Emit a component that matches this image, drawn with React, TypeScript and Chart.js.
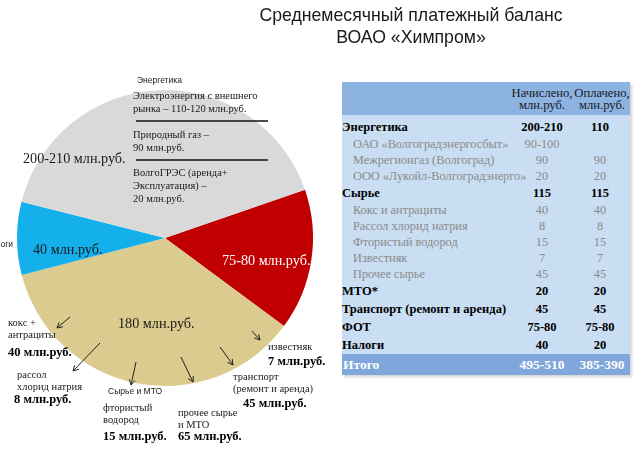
import React, { useEffect, useRef } from "react";
import { Chart, registerables } from "chart.js";

Chart.register(...registerables);

const titleLines = ["Среднемесячный платежный баланс", "ВОАО «Химпром»"];

// Pie slices (clockwise from the Энергетика / ФОТ boundary)
const categories = ["ФОТ", "Сырье и МТО", "Налоги", "Энергетика"];
const sliceValues = [77.5, 180, 40, 205];
const sliceValueLabels = ["75-80 млн.руб.", "180 млн.руб.", "40 млн.руб.", "200-210 млн.руб."];
const sliceColors = ["#c00000", "#dccb8f", "#14b0eb", "#d9d9d9"];

// Энергетика breakdown
const energyBreakdown = [
  ["Электроэнергия с внешнего", "рынка – 110-120 млн.руб."],
  ["Природный газ –", "90 млн.руб."],
  ["ВолгоГРЭС (аренда+", "Эксплуатация) –", "20 млн.руб."],
];

// Сырье и МТО breakdown
const rawNames = [
  ["кокс +", "антрациты"],
  ["рассол", "хлорид натрия"],
  ["фтористый", "водород"],
  ["прочее сырье", "и МТО"],
  ["транспорт", "(ремонт и аренда)"],
  ["известняк"],
];
const rawValues = ["40 млн.руб.", "8 млн.руб.", "15 млн.руб.", "65 млн.руб.", "45 млн.руб.", "7 млн.руб."];

// Table
const tableHeader = [["Начислено,", "млн.руб."], ["Оплачено,", "млн.руб."]];
const tableRows = [
  "Энергетика",
  "ОАО «Волгоградэнергосбыт»",
  "Межрегионгаз (Волгоград)",
  "ООО «Лукойл-Волгоградэнерго»",
  "Сырье",
  "Кокс и антрациты",
  "Рассол хлорид натрия",
  "Фтористый водород",
  "Известняк",
  "Прочее сырье",
  "МТО*",
  "Транспорт (ремонт и аренда)",
  "ФОТ",
  "Налоги",
];
const accrued = ["200-210", "90-100", "90", "20", "115", "40", "8", "15", "7", "45", "20", "45", "75-80", "40"];
const paid = ["110", "", "90", "20", "115", "40", "8", "15", "7", "45", "20", "45", "75-80", "20"];
const isSubRow = [false, true, true, true, false, true, true, true, true, true, false, false, false, false];
const totalRow = ["Итого", "495-510", "385-390"];

const SERIF = '"Liberation Serif", "Times New Roman", serif';
const SANS = '"Liberation Sans", Arial, sans-serif';

function arrow(ctx: CanvasRenderingContext2D, x1: number, y1: number, x2: number, y2: number) {
  const a = Math.atan2(y2 - y1, x2 - x1);
  const h = 6;
  ctx.beginPath();
  ctx.moveTo(x1, y1);
  ctx.lineTo(x2, y2);
  ctx.moveTo(x2 - h * Math.cos(a - 0.5), y2 - h * Math.sin(a - 0.5));
  ctx.lineTo(x2, y2);
  ctx.lineTo(x2 - h * Math.cos(a + 0.5), y2 - h * Math.sin(a + 0.5));
  ctx.stroke();
}

const annotationPlugin = {
  id: "pieAnnotations",
  afterDatasetsDraw(chart: any) {
    const ctx: CanvasRenderingContext2D = chart.ctx;
    ctx.save();
    ctx.textBaseline = "middle";
    ctx.textAlign = "left";

    // slice value labels
    const valuePos = [
      { x: 222, y: 261, c: "#ffffff" },
      { x: 118, y: 324, c: "#1a1a1a" },
      { x: 33, y: 250, c: "#1a1a1a" },
      { x: 23, y: 159, c: "#1a1a1a" },
    ];
    ctx.font = `14.2px ${SERIF}`;
    sliceValueLabels.forEach((t, i) => {
      ctx.fillStyle = valuePos[i].c;
      ctx.fillText(t, valuePos[i].x, valuePos[i].y);
    });

    // small category labels
    ctx.font = `8.5px ${SANS}`;
    ctx.fillStyle = "#1a1a1a";
    ctx.fillText(categories[3], 137, 81);
    ctx.fillText(categories[1], 108, 392);
    ctx.textAlign = "right";
    ctx.fillText(categories[2], 13, 245);
    ctx.textAlign = "left";

    // energy breakdown
    ctx.font = `10.5px ${SERIF}`;
    ctx.fillStyle = "#1a1a1a";
    const eStart = [96, 135, 173];
    energyBreakdown.forEach((lines, i) => {
      lines.forEach((l, j) => ctx.fillText(l, 133, eStart[i] + j * 13));
    });
    ctx.strokeStyle = "#111";
    ctx.lineWidth = 1.6;
    [121, 160].forEach((y) => {
      ctx.beginPath();
      ctx.moveTo(136, y);
      ctx.lineTo(268, y);
      ctx.stroke();
    });

    // raw materials callouts
    const layout = [
      { nx: 8, ny: 323, vx: 8, vy: 353, a: [70, 317, 57, 328] },
      { nx: 17, ny: 375, vx: 14, vy: 400, a: [100, 343, 73, 371] },
      { nx: 103, ny: 408, vx: 103, vy: 437, a: [136, 362, 131, 385] },
      { nx: 178, ny: 413, vx: 178, vy: 437, a: [181, 357, 193, 382] },
      { nx: 233, ny: 377, vx: 243, vy: 404, a: [220, 347, 233, 365] },
      { nx: 268, ny: 347, vx: 268, vy: 362, a: [252, 331, 260, 340] },
    ];
    ctx.strokeStyle = "#222";
    ctx.lineWidth = 1;
    rawNames.forEach((lines, i) => {
      const L = layout[i];
      ctx.font = `10.5px ${SERIF}`;
      ctx.fillStyle = "#1a1a1a";
      lines.forEach((l, j) => ctx.fillText(l, L.nx, L.ny + j * 12.5));
      ctx.font = `bold 12.5px ${SERIF}`;
      ctx.fillStyle = "#000";
      ctx.fillText(rawValues[i], L.vx, L.vy);
      arrow(ctx, L.a[0], L.a[1], L.a[2], L.a[3]);
    });

    ctx.restore();
  },
};

function PieChart() {
  const ref = useRef<HTMLCanvasElement | null>(null);
  useEffect(() => {
    if (!ref.current) return;
    const chart = new Chart(ref.current, {
      type: "pie",
      data: {
        labels: categories,
        datasets: [
          {
            data: sliceValues,
            backgroundColor: sliceColors,
            borderWidth: 0,
          },
        ],
      },
      options: {
        animation: false,
        responsive: false,
        rotation: 71,
        radius: 148,
        layout: { padding: { top: 26 } },
        plugins: {
          legend: { display: false },
          tooltip: { enabled: false },
          title: { display: false },
        },
      } as any,
      plugins: [annotationPlugin as any],
    });
    return () => chart.destroy();
  }, []);
  return (
    <canvas
      ref={ref}
      width={330}
      height={450}
      style={{ position: "absolute", left: 0, top: 0, width: 330, height: 450 }}
    />
  );
}

function DataTable() {
  const cell: React.CSSProperties = { padding: 0, textAlign: "center", whiteSpace: "nowrap" };
  return (
    <div
      style={{
        position: "absolute",
        left: 342,
        top: 82,
        width: 288,
        background: "#c9def2",
        boxShadow: "2px 2px 3px rgba(0,0,0,0.18)",
        fontFamily: SERIF,
      }}
    >
      <table
        style={{
          width: 288,
          tableLayout: "fixed",
          borderCollapse: "collapse",
          borderSpacing: 0,
          lineHeight: 1,
        }}
      >
        <colgroup>
          <col style={{ width: 168 }} />
          <col style={{ width: 64 }} />
          <col style={{ width: 56 }} />
        </colgroup>
        <thead>
          <tr style={{ height: 33, background: "#8db3e2" }}>
            <th style={cell}></th>
            {tableHeader.map((h, i) => (
              <th key={i} style={{ ...cell, fontWeight: "normal", fontSize: 12.6, color: "#1a1a1a", lineHeight: "12px", verticalAlign: "middle", paddingTop: 1 }}>
                {h[0]}
                <br />
                {h[1]}
              </th>
            ))}
          </tr>
        </thead>
        <tbody>
          <tr style={{ height: 3 }}>
            <td colSpan={3} style={{ padding: 0 }}></td>
          </tr>
          {tableRows.map((name, i) => {
            const sub = isSubRow[i];
            const st: React.CSSProperties = sub
              ? { fontSize: 12.3, color: "#8a8a8a", fontWeight: "normal" }
              : { fontSize: 12.5, color: "#000", fontWeight: "bold" };
            return (
              <tr key={i} style={{ height: sub ? 16 : 18 }}>
                <td style={{ ...cell, ...st, textAlign: "left", paddingLeft: sub ? 11 : 0 }}>{name}</td>
                <td style={{ ...cell, ...st }}>{accrued[i]}</td>
                <td style={{ ...cell, ...st, paddingRight: 4 }}>{paid[i]}</td>
              </tr>
            );
          })}
          <tr style={{ height: 21, background: "#7fa7dc" }}>
            {totalRow.map((t, i) => (
              <td
                key={i}
                style={{ ...cell, textAlign: i === 0 ? "left" : "center", paddingLeft: i === 0 ? 1 : 0, color: "#ffffff", fontWeight: "bold", fontSize: 13.5 }}
              >
                {t}
              </td>
            ))}
          </tr>
        </tbody>
      </table>
    </div>
  );
}

export default function App() {
  return (
    <div style={{ position: "absolute", left: 0, top: 0, width: 640, height: 450, background: "#fff", overflow: "hidden" }}>
      <PieChart />
      <div
        style={{
          position: "absolute",
          left: 200,
          top: 4,
          width: 422,
          textAlign: "center",
          fontFamily: SANS,
          fontSize: 17.7,
          lineHeight: "22px",
          color: "#1a1a1a",
        }}
      >
        {titleLines[0]}
        <br />
        {titleLines[1]}
      </div>
      <DataTable />
    </div>
  );
}
